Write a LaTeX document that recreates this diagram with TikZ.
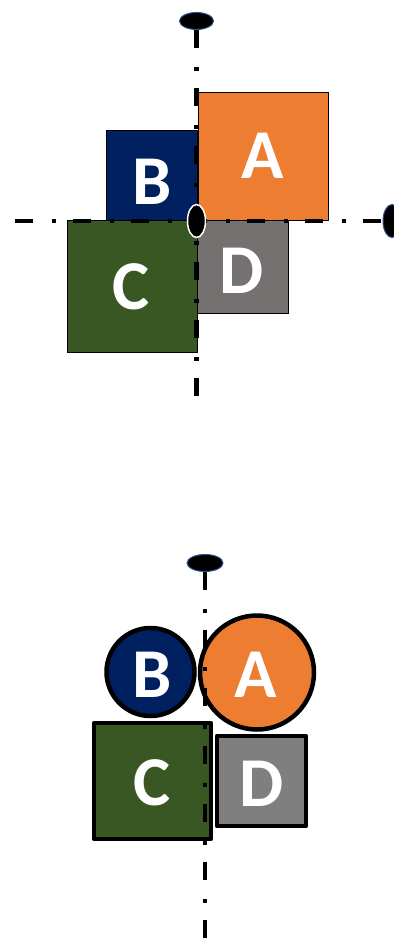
\documentclass[tikz,border=0pt]{standalone}
\usepackage{fontspec}
\setmainfont{Carlito}
\definecolor{cA}{HTML}{ED7D31}
\definecolor{cB}{HTML}{002060}
\definecolor{cC}{HTML}{385723}
\definecolor{cD}{HTML}{767171}
\definecolor{cDb}{HTML}{7F7F7F}
\definecolor{rim}{HTML}{2F528F}
\tikzset{
  thinbox/.style={draw=black, line width=1pt, inner sep=0pt, outer sep=0pt},
  thickbox/.style={draw=black, line width=4.5pt, line join=round, inner sep=0pt, outer sep=0pt},
  lbl/.style={text=white, font=\fontsize{70}{70}\selectfont\bfseries, inner sep=0pt},
  axisline/.style={line width=4.5pt, dash pattern=on 18pt off 19pt on 4pt off 17pt},
  endcap/.style={ellipse, fill=black, draw=rim, line width=1pt, inner sep=0pt}
}
\usetikzlibrary{shapes.geometric}
\begin{document}
\begin{tikzpicture}[x=1pt,y=-1pt]
\useasboundingbox (0,0) rectangle (393,949);
% ---------- top figure ----------
\path[fill=cA, thinbox] (198,93) rectangle (328,221);
\path[fill=cB, thinbox] (106,131) rectangle (197,221);
\path[fill=cC, thinbox] (67,221) rectangle (197,352);
\path[fill=cD, thinbox] (197,221) rectangle (288,313);
\node[lbl] (la) at (263,156) {A};
\node[lbl] (lb) at (152,182) {B};
\node[lbl] (lc) at (131,287) {C};
\node[lbl] (ld) at (242,271) {D};
\node[endcap, minimum width=34pt, minimum height=17pt] (topv) at (196.5,21) {};
\node[endcap, minimum width=18pt, minimum height=33pt] (toph) at (392,221) {};
\coordinate (vend) at (196.5,408);
\coordinate (hstart) at (15,221);
\draw[axisline] (topv.south) -- (vend);
\draw[axisline] (hstart) -- (toph.west);
\node[ellipse, fill=black, draw=white, line width=1.5pt, minimum width=18pt, minimum height=33pt, inner sep=0pt] (origin) at (196.5,221) {};
% ---------- bottom figure ----------
\node[circle, fill=cB, thickbox, minimum size=88pt] (cb) at (150.5,672) {};
\node[circle, fill=cA, thickbox, minimum size=114pt] (ca) at (257,672.5) {};
\path[fill=cC, thickbox] (94,723) rectangle (211,839);
\path[fill=cDb, thickbox] (217,736) rectangle (306,826);
\node[lbl] (lb2) at (152,675) {B};
\node[lbl] (la2) at (256,675) {A};
\node[lbl] (lc2) at (152,783) {C};
\node[lbl] (ld2) at (262,784) {D};
\node[endcap, minimum width=36pt, minimum height=17pt] (botv) at (205,563) {};
\coordinate (bvend) at (205,949);
\draw[axisline] (botv.south) -- (bvend);
\end{tikzpicture}
\end{document}
